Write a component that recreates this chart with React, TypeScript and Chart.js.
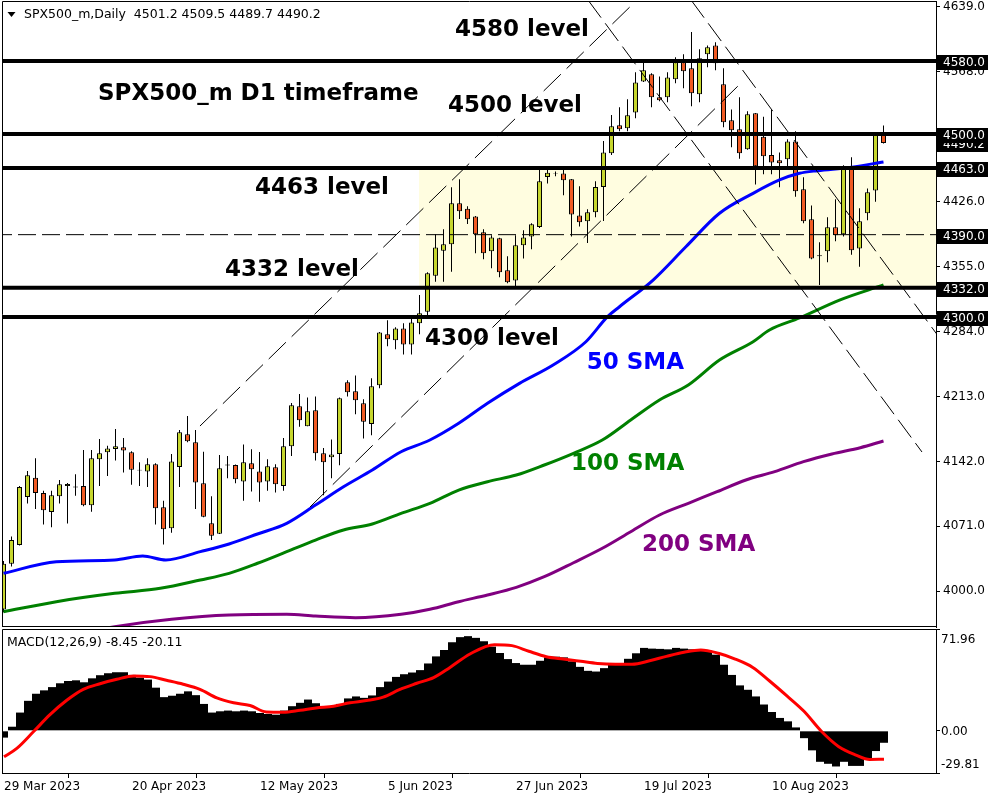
import React, { useEffect, useRef } from "react";
import { Chart, registerables } from "chart.js";

Chart.register(...registerables);

// ---------------- DATA ----------------
const symbolName = "SPX500_m";
const dateLabels = ["29 Mar 2023", "20 Apr 2023", "12 May 2023", "5 Jun 2023", "27 Jun 2023", "19 Jul 2023", "10 Aug 2023"];
const dateTickBars = [0, 16, 32, 48, 64, 80, 96];

const opens = [
  3980, 4030, 4050.6, 4103, 4124, 4107.5, 4086.7, 4104, 4115, 4113.5,
  4115, 4094, 4144.3, 4152, 4155.5, 4157.5, 4152, 4133, 4131, 4139,
  4091.8, 4069, 4136, 4171.6, 4163, 4118, 4074.3, 4063, 4137.5, 4138,
  4120, 4140, 4131, 4120, 4135.5, 4115, 4158.5, 4202.3, 4180.5, 4198,
  4151, 4146.5, 4150, 4228.5, 4218.7, 4205.5, 4183, 4225.3, 4281, 4274.4,
  4287.5, 4270, 4293, 4305.8, 4345, 4372.5, 4379.5, 4424.3, 4418.4, 4410,
  4392.6, 4371.8, 4386, 4351, 4340, 4378.4, 4388, 4398.4, 4453, 4457,
  4457, 4450.5, 4411, 4404.6, 4414.5, 4442, 4479, 4509.6, 4506.3, 4523.7,
  4557.6, 4565.4, 4540.2, 4540.2, 4559.9, 4578.5, 4572, 4543.5, 4587.3, 4597,
  4554.5, 4515, 4505.2, 4483.4, 4522.7, 4497.2, 4477, 4471.3, 4472.4, 4492,
  4439.6, 4406.8, 4367.5, 4371.8, 4398, 4390.4, 4463, 4375, 4413.3, 4438.4, 4501.2,
];
const highs = [
  4033, 4060, 4115, 4131.5, 4145.4, 4110, 4110, 4121.7, 4118.4, 4128,
  4154.5, 4154.5, 4166.5, 4159, 4177.5, 4167.6, 4153, 4141, 4145.4, 4140,
  4099, 4150, 4176.3, 4191.7, 4176.4, 4152.6, 4104, 4149, 4148, 4138.5,
  4160.5, 4155.4, 4152.3, 4144.5, 4139, 4167.6, 4206, 4215.7, 4212, 4213,
  4156.7, 4166, 4212, 4230.7, 4236, 4210, 4233, 4283.5, 4296.3, 4288.7,
  4293, 4298.5, 4324, 4349, 4390.4, 4396, 4441.8, 4450.5, 4421, 4410.5,
  4396, 4389.3, 4386.5, 4366.3, 4389.3, 4394.9, 4402.4, 4460.7, 4460.7, 4459,
  4460.7, 4451, 4443, 4417.7, 4448.3, 4492.4, 4521, 4529.3, 4538, 4567.5,
  4579.5, 4566.5, 4563, 4567.6, 4584, 4587.3, 4611.7, 4592.7, 4597, 4600.4,
  4572, 4527, 4540.2, 4525, 4523, 4519, 4526.3, 4480, 4494.4, 4503,
  4452.7, 4422, 4381.6, 4409, 4428.6, 4466, 4474.6, 4419, 4440.6, 4502, 4509.5,
];
const lows = [
  3977, 4027, 4050, 4096, 4090, 4073, 4070, 4096, 4074, 4104.5,
  4093, 4087, 4115, 4126, 4143, 4130, 4116.5, 4115, 4114, 4073,
  4051, 4064, 4114, 4163, 4090, 4081, 4056, 4062.6, 4123.5, 4118,
  4099, 4109, 4098, 4110, 4108, 4110, 4148, 4180, 4180.5, 4143,
  4105, 4123.5, 4137.7, 4213, 4193.5, 4167, 4170.5, 4222, 4268, 4264.7,
  4259, 4259, 4281, 4300, 4338.6, 4338.6, 4349.5, 4407, 4401.7, 4369.6,
  4363, 4353.2, 4343.4, 4336.8, 4333, 4364, 4374, 4397.2, 4446, 4454,
  4433, 4388, 4399, 4381, 4409, 4405, 4477, 4503, 4503, 4517.3,
  4557, 4529.3, 4535.9, 4534.8, 4555.5, 4550, 4530.4, 4534.8, 4573, 4569.8,
  4507.4, 4485.6, 4473, 4483, 4445, 4456, 4456, 4441.8, 4462, 4431.6,
  4402.4, 4363, 4335, 4359.8, 4382.7, 4388, 4368, 4355, 4405.7, 4426, 4489.7,
];
const closes = [
  4030, 4056, 4114, 4127, 4107.5, 4088.5, 4105, 4117, 4117.4, 4114.5,
  4094, 4145.4, 4151, 4156, 4158.5, 4154, 4133, 4132, 4139, 4090.7,
  4067.7, 4142, 4174, 4164, 4119, 4081.5, 4060.8, 4134.5, 4138.5, 4122.4,
  4141, 4133.4, 4119, 4136.6, 4117, 4158.5, 4203.4, 4187, 4197, 4151,
  4141, 4149.5, 4211, 4217.6, 4209, 4185.5, 4224.3, 4283, 4275.5, 4287.5,
  4270, 4294, 4304, 4347.7, 4376, 4379.5, 4424.3, 4415.6, 4406.8, 4390.4,
  4369.6, 4387, 4348.8, 4337.9, 4378.4, 4387, 4401.3, 4448.3, 4457.7, 4456.3,
  4449.5, 4412, 4403.5, 4414.5, 4442, 4480, 4508.5, 4505.2, 4520.5, 4556.5,
  4569.7, 4540.2, 4537, 4562, 4578.5, 4568.7, 4544.6, 4583, 4595, 4577.4,
  4512.9, 4504.2, 4479, 4521.6, 4464.8, 4475.7, 4469, 4468, 4492, 4437.4,
  4404.6, 4364, 4366.5, 4398, 4389.3, 4462.6, 4373, 4404.6, 4436.3, 4499, 4490.2,
];

// moving averages at sample bars
const sma50Bars = [0, 6.6, 13.9, 17.4, 20.3, 24.6, 28.2, 31.75, 35.4, 39, 42.5, 46.1, 49.7, 53.3, 56.9, 60.5, 64.5, 68.7, 72.8, 75.5, 77, 81.2, 85.3, 89.5, 93.7, 97, 99.5, 101.75, 105.75, 110];
const sma50Vals = [4019.6, 4032.3, 4034.2, 4038.5, 4034.2, 4043.3, 4051.7, 4062.6, 4074.3, 4094.3, 4114.3, 4132.6, 4152.6, 4165.4, 4183.7, 4205.6, 4227.4, 4247.5, 4272.9, 4300.3, 4311.2, 4340.4, 4376.8, 4413.4, 4435.2, 4449.8, 4457.1, 4460, 4463.5, 4469.5];
const sma100Bars = [0, 6.6, 13.9, 19.6, 24.6, 28.2, 31.75, 35.4, 39, 42.5, 46.1, 49.7, 53.3, 56.9, 60.5, 64.1, 67.6, 71.25, 74.85, 78.4, 82, 85.6, 89.5, 93.7, 95.75, 99.5, 104.5, 110];
const sma100Vals = [3977.6, 3988.6, 3997.7, 4003.2, 4012.3, 4019.6, 4030.6, 4043.3, 4056, 4067, 4073.6, 4085.2, 4096.2, 4110.7, 4119.8, 4127.1, 4138.1, 4150.9, 4165.4, 4187.3, 4209.2, 4225.6, 4252.9, 4272.9, 4285.7, 4298.9, 4318.5, 4335];
const sma200Bars = [10, 13.9, 21, 28.2, 35.4, 39, 44, 49.7, 53.3, 56.9, 60.5, 64.1, 67.6, 71.25, 74.85, 78.4, 82, 85.6, 89.2, 92.8, 96.4, 100, 103.55, 107.1, 110];
const sma200Vals = [3955, 3961.2, 3969.3, 3974, 3974.8, 3972.9, 3971.1, 3974.8, 3980.3, 3988.6, 3995.9, 4004.3, 4015.9, 4031.2, 4047, 4065.1, 4083.4, 4096.2, 4108.9, 4121.7, 4130.8, 4141.7, 4150.1, 4157, 4164.3];

// horizontal levels
const levelPrices = [4580, 4500, 4463, 4332, 4300];
const dashedLevelPrice = 4390;
const zoneLow = 4332;
const zoneHigh = 4463;
const zoneStartBar = 51.94;

// trend channel lines: [startBar, startPrice, endBar, endPrice]
const channelA = [24.56, 4180.7, 79.19, 4646.7];
const channelB = [38.31, 4092.1, 91.81, 4552.6];
const channelC = [73.06, 4646.7, 114.81, 4152.3];
const channelD = [85.94, 4646.7, 118.3, 4261.7];

// price axis
const priceTicks = [4000, 4071, 4142, 4213, 4284, 4355, 4426, 4497, 4568, 4639];

// MACD
const macdHist = [
  -4.8, 2.9, 12.9, 21.2, 26.2, 28.6, 30.9, 33.6, 35.2, 35.7,
  34.3, 37.1, 39.3, 40.7, 41.4, 41.4, 39.5, 37.6, 36.2, 30.5,
  23.8, 24.8, 26.2, 27.9, 25.2, 19.0, 12.9, 13.8, 14.3, 13.8,
  14.3, 13.8, 12.6, 11.9, 11.4, 14.3, 17.4, 19.8, 22.1, 19.5,
  17.4, 17.1, 19.0, 22.9, 24.3, 23.3, 25.0, 30.9, 34.8, 38.1,
  40.0, 41.2, 42.9, 47.6, 52.6, 57.1, 62.6, 66.2, 66.9, 65.7,
  63.3, 59.5, 55.0, 50.7, 47.9, 46.7, 46.7, 49.5, 51.9, 52.4,
  51.9, 49.1, 45.2, 42.4, 41.9, 44.3, 46.7, 47.6, 50.9, 54.8,
  58.6, 58.1, 57.9, 57.6, 58.6, 58.1, 57.6, 57.6, 56.7, 53.8,
  46.7, 39.5, 32.1, 29.0, 24.3, 18.6, 13.3, 9.1, 6.7, 2.4,
  -5.2, -13.8, -21.9, -23.3, -25.2, -21.9, -24.8, -24.8, -19.5, -14.3, -8.45,
];
const signalBars = [0, 1.6, 3.7, 5.75, 7.8, 9.9, 12, 14.1, 16.2, 18.25, 20.3, 22.4, 24.5, 26.6, 28.7, 30.75, 32.8, 34.9, 37, 39, 41.2, 43.25, 45.3, 47.4, 49.5, 51.6, 53.7, 55.75, 58.25, 61.3, 63.5, 65.6, 67.8, 69.9, 72.1, 74.2, 76.4, 78.5, 80.7, 82.8, 85, 87.1, 89.3, 91.4, 93.6, 95.7, 97.9, 100, 102.2, 104.35, 106.5, 108.2, 110];
const signalVals = [-18.4, -12.4, -0.5, 11.4, 21.4, 29.3, 33.3, 36.4, 38.8, 38.3, 35.7, 32.9, 29.3, 23.3, 19.8, 17.9, 13.3, 13.1, 14.5, 16.2, 17.4, 19.8, 21.4, 23.8, 29.3, 33.6, 37.6, 44.8, 54.3, 60.9, 60.2, 56.2, 52.4, 50.7, 49.1, 47.6, 47.1, 47.1, 49.5, 52.6, 55.5, 57.1, 54.8, 50.7, 44.8, 35.2, 24.5, 13.8, -0.5, -11.2, -17.1, -20.2, -20.11];
const macdMax = 71.96;
const macdMin = -29.81;
const macdTicks = [71.96, 0, -29.81];

// text annotations
const annotationTexts = ["4580 level", "SPX500_m D1 timeframe", "4500 level", "4463 level", "4332 level", "4300 level", "50 SMA", "100 SMA", "200 SMA"];

// ---------------- STYLE / LAYOUT ----------------
const FONT = "'DejaVu Sans', sans-serif";
const BULL = "#c6d62e";
const BEAR = "#f05a23";
const ZONE_COLOR = "#fffde0";
const X_MIN = -0.1875;
const X_MAX = 116.5625;
const PRICE_MIN = 3960.9;
const PRICE_MAX = 4645.56;
// anchor of each annotation (left edge bar, baseline price) and colour
const annotationLayout = [
  { bar: 56.44, price: 4607.3, color: "#000" },
  { bar: 11.81, price: 4537.3, color: "#000" },
  { bar: 55.56, price: 4524.2, color: "#000" },
  { bar: 31.44, price: 4434.5, color: "#000" },
  { bar: 27.69, price: 4344.8, color: "#000" },
  { bar: 52.69, price: 4269.3, color: "#000" },
  { bar: 72.9, price: 4243.1, color: "#0000ff" },
  { bar: 70.94, price: 4132.6, color: "#008000" },
  { bar: 79.81, price: 4044.0, color: "#800080" },
];

const toPts = (xs: number[], ys: number[]) => xs.map((x, i) => ({ x, y: ys[i] }));
const seg = (s: number[]) => [{ x: s[0], y: s[1] }, { x: s[2], y: s[3] }];

export default function App() {
  const priceRef = useRef<HTMLCanvasElement>(null);
  const macdRef = useRef<HTMLCanvasElement>(null);

  useEffect(() => {
    const last = opens.length - 1;

    const pricePlugin = {
      id: "priceDecor",
      beforeDatasetsDraw(chart: any) {
        const { ctx, chartArea, scales } = chart;
        const x = scales.x, y = scales.y;
        const left = x.getPixelForValue(zoneStartBar);
        const top = y.getPixelForValue(zoneHigh);
        const bottom = y.getPixelForValue(zoneLow);
        ctx.save();
        ctx.fillStyle = ZONE_COLOR;
        ctx.fillRect(left, top, chartArea.right - left, bottom - top);
        ctx.restore();
      },
      afterDatasetsDraw(chart: any) {
        const { ctx, scales } = chart;
        ctx.save();
        ctx.font = `bold 23px ${FONT}`;
        ctx.textBaseline = "alphabetic";
        ctx.textAlign = "left";
        annotationTexts.forEach((t, i) => {
          const a = annotationLayout[i];
          ctx.fillStyle = a.color;
          ctx.fillText(t, scales.x.getPixelForValue(a.bar), scales.y.getPixelForValue(a.price));
        });
        ctx.restore();
      },
      afterDraw(chart: any) {
        const { ctx, chartArea, scales } = chart;
        const y = scales.y;
        ctx.save();
        // frame
        ctx.strokeStyle = "#000";
        ctx.lineWidth = 1;
        ctx.beginPath();
        ctx.moveTo(chartArea.left + 0.5, chartArea.bottom);
        ctx.lineTo(chartArea.left + 0.5, chartArea.top + 0.5);
        ctx.lineTo(chartArea.right, chartArea.top + 0.5);
        ctx.moveTo(chartArea.left, chartArea.bottom - 0.5);
        ctx.lineTo(chartArea.right, chartArea.bottom - 0.5);
        ctx.stroke();
        // boxed axis labels
        ctx.font = `12px ${FONT}`;
        ctx.textBaseline = "middle";
        ctx.textAlign = "left";
        const box = (p: number) => {
          const py = Math.round(y.getPixelForValue(p));
          ctx.fillStyle = "#000";
          ctx.fillRect(chartArea.right + 1, py - 6, 51, 15);
          ctx.fillStyle = "#fff";
          ctx.fillText(p.toFixed(1), chartArea.right + 7, py + 1.5);
        };
        box(closes[last]);
        [levelPrices[0], levelPrices[1], levelPrices[2], dashedLevelPrice, levelPrices[3], levelPrices[4]].forEach(box);
        // title
        ctx.fillStyle = "#000";
        ctx.beginPath();
        ctx.moveTo(7.5, 12);
        ctx.lineTo(15.5, 12);
        ctx.lineTo(11.5, 17);
        ctx.closePath();
        ctx.fill();
        ctx.font = `12.5px ${FONT}`;
        ctx.textBaseline = "alphabetic";
        ctx.fillText(
          `${symbolName},Daily  ${opens[last].toFixed(1)} ${highs[last].toFixed(1)} ${lows[last].toFixed(1)} ${closes[last].toFixed(1)}`,
          24,
          18
        );
        ctx.restore();
      },
    };

    const hLine = (p: number) => [{ x: X_MIN - 1, y: p }, { x: X_MAX + 1, y: p }];

    const priceChart = new Chart(priceRef.current as HTMLCanvasElement, {
      type: "bar",
      data: {
        datasets: [
          ...levelPrices.map((p) => ({
            type: "line",
            data: hLine(p),
            borderColor: "#000",
            borderWidth: 4,
            pointRadius: 0,
            order: 1,
          })),
          {
            type: "line",
            data: hLine(dashedLevelPrice),
            borderColor: "#000",
            borderWidth: 1,
            borderDash: [18, 6],
            pointRadius: 0,
            order: 1,
          },
          ...[channelA, channelB].map((s) => ({
            type: "line",
            data: seg(s),
            borderColor: "#000",
            borderWidth: 1,
            borderDash: [24, 8],
            pointRadius: 0,
            order: 2,
          })),
          ...[channelC, channelD].map((s) => ({
            type: "line",
            data: seg(s),
            borderColor: "#000",
            borderWidth: 1,
            borderDash: [22, 7],
            pointRadius: 0,
            order: 2,
          })),
          {
            type: "line",
            data: toPts(sma200Bars, sma200Vals),
            borderColor: "#800080",
            borderWidth: 3,
            pointRadius: 0,
            cubicInterpolationMode: "monotone",
            order: 3,
          },
          {
            type: "line",
            data: toPts(sma100Bars, sma100Vals),
            borderColor: "#008000",
            borderWidth: 3,
            pointRadius: 0,
            cubicInterpolationMode: "monotone",
            order: 3,
          },
          {
            type: "line",
            data: toPts(sma50Bars, sma50Vals),
            borderColor: "#0000ff",
            borderWidth: 3,
            pointRadius: 0,
            cubicInterpolationMode: "monotone",
            order: 3,
          },
          {
            type: "bar",
            data: opens.map((o, i) => ({ x: i, y: [o, closes[i]] })),
            backgroundColor: opens.map((o, i) => (closes[i] >= o ? BULL : BEAR)),
            borderColor: "#000",
            borderWidth: 1,
            borderSkipped: false,
            barThickness: 5,
            grouped: false,
            inflateAmount: 0,
            order: 9,
          },
          {
            type: "bar",
            data: lows.map((l, i) => ({ x: i, y: [l, highs[i]] })),
            backgroundColor: "#000",
            borderWidth: 0,
            barThickness: 1,
            grouped: false,
            inflateAmount: 0,
            order: 10,
          },
        ],
      },
      options: {
        responsive: false,
        animation: false,
        events: [],
        layout: { padding: { top: 1, bottom: 1, left: 2, right: 0 } },
        plugins: { legend: { display: false }, tooltip: { enabled: false } },
        scales: {
          x: {
            type: "linear",
            min: X_MIN,
            max: X_MAX,
            display: false,
            offset: false,
            grid: { display: false },
          },
          y: {
            type: "linear",
            position: "right",
            min: PRICE_MIN,
            max: PRICE_MAX,
            afterBuildTicks: (s: any) => {
              s.ticks = priceTicks.map((v) => ({ value: v }));
            },
            afterFit: (s: any) => {
              s.width = 64;
              s.paddingTop = 0;
              s.paddingBottom = 0;
            },
            ticks: {
              autoSkip: false,
              padding: 3,
              color: "#000",
              font: { family: FONT, size: 12 },
              callback: (v: any) => Number(v).toFixed(1),
            },
            grid: { drawOnChartArea: false, drawTicks: true, tickLength: 4, color: "#000" },
            border: { display: true, color: "#000" },
          },
        },
      },
      plugins: [pricePlugin],
    } as any);

    const macdPlugin = {
      id: "macdDecor",
      afterDraw(chart: any) {
        const { ctx, chartArea, scales } = chart;
        const y = scales.y;
        ctx.save();
        ctx.strokeStyle = "#000";
        ctx.lineWidth = 1;
        ctx.beginPath();
        ctx.moveTo(chartArea.left + 0.5, chartArea.bottom);
        ctx.lineTo(chartArea.left + 0.5, chartArea.top + 0.5);
        ctx.lineTo(chartArea.right, chartArea.top + 0.5);
        ctx.stroke();
        ctx.fillStyle = "#000";
        ctx.font = `12.5px ${FONT}`;
        ctx.textAlign = "left";
        ctx.textBaseline = "alphabetic";
        ctx.fillText(
          `MACD(12,26,9) ${macdHist[macdHist.length - 1].toFixed(2)} ${signalVals[signalVals.length - 1].toFixed(2)}`,
          7,
          chartArea.top + 17
        );
        ctx.font = `12px ${FONT}`;
        ctx.textBaseline = "middle";
        const offs = [11, 1, -8];
        macdTicks.forEach((v, i) => {
          ctx.fillText(v.toFixed(2), chartArea.right + 5, y.getPixelForValue(v) + offs[i]);
        });
        ctx.restore();
      },
    };

    const macdChart = new Chart(macdRef.current as HTMLCanvasElement, {
      type: "bar",
      data: {
        datasets: [
          {
            type: "line",
            data: toPts(signalBars, signalVals),
            borderColor: "#ff0000",
            borderWidth: 3,
            pointRadius: 0,
            cubicInterpolationMode: "monotone",
            order: 1,
          },
          {
            type: "bar",
            data: macdHist.map((v, i) => ({ x: i, y: v })),
            backgroundColor: "#000",
            borderWidth: 0,
            barThickness: 8,
            grouped: false,
            inflateAmount: 0,
            order: 2,
          },
        ],
      },
      options: {
        responsive: false,
        animation: false,
        events: [],
        layout: { padding: { top: 1, bottom: 0, left: 2, right: 0 } },
        plugins: { legend: { display: false }, tooltip: { enabled: false } },
        scales: {
          x: {
            type: "linear",
            position: "bottom",
            min: -0.25,
            max: 116.5,
            offset: false,
            afterBuildTicks: (s: any) => {
              s.ticks = dateTickBars.map((v) => ({ value: v }));
            },
            afterFit: (s: any) => {
              s.height = 27;
              s.paddingLeft = 0;
              s.paddingRight = 0;
            },
            ticks: {
              autoSkip: false,
              maxRotation: 0,
              minRotation: 0,
              align: "start",
              padding: 2,
              color: "#000",
              font: { family: FONT, size: 12 },
              callback: (_v: any, i: number) => dateLabels[i],
            },
            grid: { drawOnChartArea: false, drawTicks: true, tickLength: 5, color: "#000" },
            border: { display: true, color: "#000" },
          },
          y: {
            type: "linear",
            position: "right",
            min: macdMin,
            max: macdMax,
            afterBuildTicks: (s: any) => {
              s.ticks = macdTicks.map((v) => ({ value: v }));
            },
            afterFit: (s: any) => {
              s.width = 64;
              s.paddingTop = 0;
              s.paddingBottom = 0;
            },
            ticks: { autoSkip: false, callback: () => "" },
            grid: { drawOnChartArea: false, drawTicks: true, tickLength: 4, color: "#000" },
            border: { display: true, color: "#000" },
          },
        },
      },
      plugins: [macdPlugin],
    } as any);

    return () => {
      priceChart.destroy();
      macdChart.destroy();
    };
  }, []);

  return (
    <div style={{ position: "fixed", left: 0, top: 0, width: 1000, height: 800, background: "#fff" }}>
      <div style={{ position: "absolute", left: 0, top: 0, width: 1000, height: 628 }}>
        <canvas ref={priceRef} width={1000} height={628} style={{ width: 1000, height: 628, display: "block" }} />
      </div>
      <div style={{ position: "absolute", left: 0, top: 628, width: 1000, height: 172 }}>
        <canvas ref={macdRef} width={1000} height={172} style={{ width: 1000, height: 172, display: "block" }} />
      </div>
    </div>
  );
}
